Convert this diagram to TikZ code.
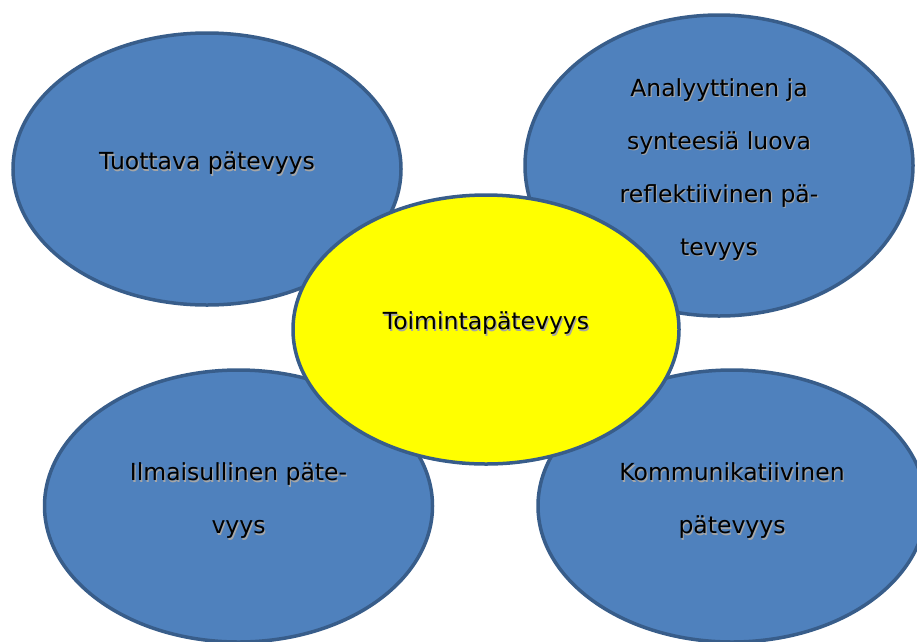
\documentclass[tikz,border=0pt]{standalone}
\usepackage{fontspec}
\setmainfont{DejaVu Sans}
\usepackage{xcolor}
\usepackage{tikz}
\usetikzlibrary{shapes.geometric}
\definecolor{petal}{RGB}{79,129,189}
\definecolor{petaledge}{RGB}{56,93,138}
\definecolor{core}{RGB}{255,255,0}
\newcommand{\txtshadow}[1]{\makebox[0pt][l]{\kern1.2pt\raisebox{-1.2pt}{\color{black!35}#1}}#1}

\begin{document}
\begin{tikzpicture}[x=1pt, y=-1pt,
		blob/.style={ellipse, inner sep=0pt, line width=3.5pt, draw=petaledge,
			align=center, font=\fontsize{23.5}{53}\selectfont},
		leaf/.style={blob, fill=petal, minimum width=388pt, minimum height=272pt}]
		\useasboundingbox (0,0) rectangle (917,641);
		\node[leaf, text depth=16pt] (tuottava) at (207,169)
			{\txtshadow{Tuottava pätevyys}};
		\node[leaf, minimum height=301pt, text height=186pt] (analyyttinen) at (719,165.5)
			{\txtshadow{Analyyttinen ja}\\ \txtshadow{synteesiä luova}\\
			 \txtshadow{reflektiivinen pä-}\\ \txtshadow{tevyys}};
		\node[leaf, text depth=15pt] (ilmaisullinen) at (238.5,506)
			{\txtshadow{Ilmaisullinen päte-}\\ \txtshadow{vyys}};
		\node[leaf, text depth=15pt] (kommunikatiivinen) at (732,506)
			{\txtshadow{Kommunikatiivinen}\\ \txtshadow{pätevyys}};
		\node[blob, fill=core, minimum width=386pt, minimum height=269pt, text depth=17pt]
			(toiminta) at (486,329.5) {\txtshadow{Toimintapätevyys}};
	\end{tikzpicture}
\end{document}
